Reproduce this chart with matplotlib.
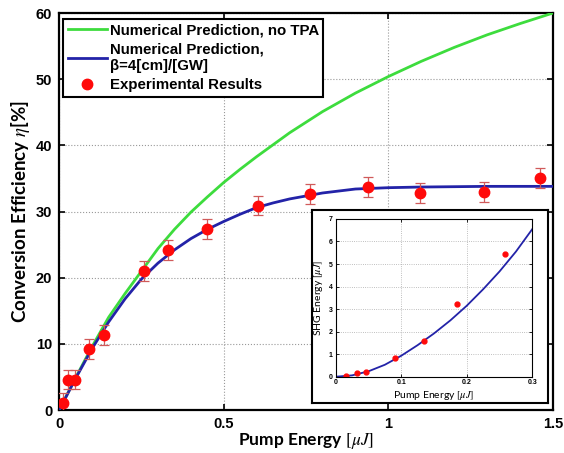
import matplotlib
matplotlib.use("Agg")
import matplotlib.pyplot as plt

plt.rcParams['mathtext.fontset'] = 'stix'

# Efficacité de conversion vs énergie de pompe (courbes numériques lues point par point)
pump_model = [0, 0.05, 0.1, 0.15, 0.2, 0.25, 0.3, 0.35, 0.4, 0.45, 0.5, 0.55, 0.6,
              0.65, 0.7, 0.8, 0.9, 1.0, 1.1, 1.2, 1.3, 1.4, 1.5]
eff_no_tpa = [0, 4.9, 9.6, 14.0, 17.6, 21.0, 24.4, 27.3, 29.9, 32.2, 34.4, 36.4, 38.3,
              40.1, 41.9, 45.1, 47.9, 50.4, 52.7, 54.8, 56.7, 58.4, 60.0]
eff_tpa = [0, 4.8, 9.3, 13.3, 16.8, 19.8, 22.2, 24.2, 25.9, 27.3, 28.5, 29.6, 30.6,
           31.3, 31.9, 32.8, 33.4, 33.6, 33.7, 33.75, 33.8, 33.8, 33.8]

# Points expérimentaux
pump_exp = [0.012, 0.027, 0.048, 0.089, 0.136, 0.257, 0.331, 0.449, 0.605, 0.761,
            0.938, 1.097, 1.290, 1.461]
eff_exp = [1.1, 4.6, 4.6, 9.2, 11.3, 21.0, 24.2, 27.4, 30.9, 32.6, 33.7, 32.8, 33.0, 35.0]
eff_err = [1.5] * len(eff_exp)

# Encart : énergie SHG
pump_in_model = [0, 0.025, 0.05, 0.075, 0.1, 0.125, 0.15, 0.175, 0.2, 0.225, 0.25, 0.275, 0.3]
shg_model = [0, 0.06, 0.24, 0.53, 0.93, 1.40, 1.92, 2.50, 3.15, 3.88, 4.67, 5.55, 6.55]
pump_in_exp = [0.0154, 0.033, 0.047, 0.091, 0.135, 0.185, 0.259]
shg_exp = [0.04, 0.18, 0.23, 0.85, 1.57, 3.24, 5.46]

green = '#3ddc3d'
blue = '#2323a8'
red = '#ff0a0a'

fig = plt.figure(figsize=(5.64, 4.53), dpi=100)
ax = fig.add_axes([0.105, 0.0949, 0.8755, 0.8764])

ax.plot(pump_model, eff_no_tpa, color=green, lw=2, label='Numerical Prediction, no TPA', zorder=3)
ax.plot(pump_model, eff_tpa, color=blue, lw=2, label='Numerical Prediction,\n\u03b2=4[cm]/[GW]', zorder=3)
ax.errorbar(pump_exp, eff_exp, yerr=eff_err, fmt='none', ecolor='#d05a5a', elinewidth=0.9,
            capsize=3.5, capthick=0.9, zorder=4)
ax.plot(pump_exp, eff_exp, 'o', color=red, ms=7.5, mec=red, label='Experimental Results', zorder=5)

ax.set_xlim(0, 1.5)
ax.set_ylim(0, 60)
ax.set_xticks([0, 0.5, 1, 1.5])
ax.set_xticklabels(['0', '0.5', '1', '1.5'])
ax.set_yticks(range(0, 61, 10))
ax.tick_params(direction='in', top=True, right=True, length=4, width=1.2, pad=5)
for lab in ax.get_xticklabels() + ax.get_yticklabels():
    lab.set_fontfamily('Liberation Sans')
    lab.set_fontweight('bold')
    lab.set_fontsize(10.5)
for sp in ax.spines.values():
    sp.set_linewidth(1.6)
ax.grid(True, linestyle=':', color='#999999', lw=0.8)
ax.set_axisbelow(True)

ax.set_xlabel(r'Pump Energy $[\mu J]$', fontfamily=['Lato', 'DejaVu Sans'],
              fontweight='bold', fontsize=12.5, labelpad=0)
ax.set_ylabel(r'Conversion Efficiency $\eta$[%]', fontfamily=['Lato', 'DejaVu Sans'],
              fontweight='bold', fontsize=13.5, labelpad=3)

leg = ax.legend(loc='upper left', bbox_to_anchor=(0.008, 0.985), borderaxespad=0,
                prop={'family': 'Liberation Sans', 'weight': 'bold', 'size': 10.8},
                fancybox=False, framealpha=1, edgecolor='black', handlelength=2.6,
                handletextpad=0.2, labelspacing=0.35, borderpad=0.3)
leg.get_frame().set_linewidth(1.5)

# Cadre blanc autour de l'encart
frame = fig.add_axes([0.5527, 0.1097, 0.4195, 0.4267])
frame.set_xticks([])
frame.set_yticks([])
for sp in frame.spines.values():
    sp.set_linewidth(1.5)

ax_in = fig.add_axes([0.5952, 0.1684, 0.3486, 0.3483])
ax_in.plot(pump_in_model, shg_model, color=blue, lw=1.3)
ax_in.plot(pump_in_exp, shg_exp, 'o', color=red, ms=3.5, mec=red)
ax_in.set_xlim(0, 0.3)
ax_in.set_ylim(0, 7)
ax_in.set_xticks([0, 0.1, 0.2, 0.3])
ax_in.set_xticklabels(['0', '0.1', '0.2', '0.3'])
ax_in.set_yticks(range(0, 8))
ax_in.tick_params(direction='in', top=True, right=True, length=2, width=0.6, pad=2, labelsize=5)
for lab in ax_in.get_xticklabels() + ax_in.get_yticklabels():
    lab.set_fontfamily('Liberation Sans')
    lab.set_fontweight('bold')
for sp in ax_in.spines.values():
    sp.set_linewidth(0.8)
ax_in.grid(True, linestyle=':', color='#aaaaaa', lw=0.6)
ax_in.set_axisbelow(True)
ax_in.set_xlabel(r'Pump Energy $[\mu J]$', fontfamily=['Lato', 'DejaVu Sans'], fontsize=7.5, labelpad=2)
ax_in.set_ylabel(r'SHG Energy $[\mu J]$', fontfamily=['Lato', 'DejaVu Sans'], fontsize=7.5, labelpad=3)

fig.savefig('out.png', dpi=100)
